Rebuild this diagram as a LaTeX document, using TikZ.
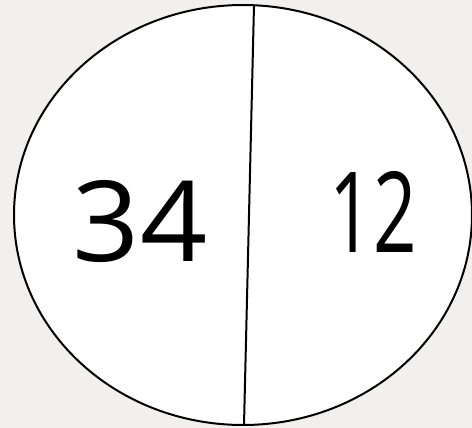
\documentclass[tikz,border=0pt]{standalone}
\usepackage{fontspec}
\setmainfont{Open Sans}
\definecolor{bgc}{HTML}{F1F0EE}
\begin{document}
\begin{tikzpicture}[x=1pt,y=-1pt,
  digits/.style={font=\fontsize{112}{112}\selectfont, inner sep=0pt, text=black}]
\useasboundingbox (0,0) rectangle (472,428);
\fill[bgc] (0,0) rectangle (472,428);
\draw[line width=2pt, fill=white] (243,215) ellipse [x radius=229, y radius=210];
\coordinate (top) at (254,5);
\coordinate (bot) at (244,425);
\draw[line width=2pt] (top) -- (bot);
\node[digits, xscale=1.05] (left) at (140,221) {34};
\node[digits, xscale=0.68] (right) at (373,212) {12};
\end{tikzpicture}
\end{document}
